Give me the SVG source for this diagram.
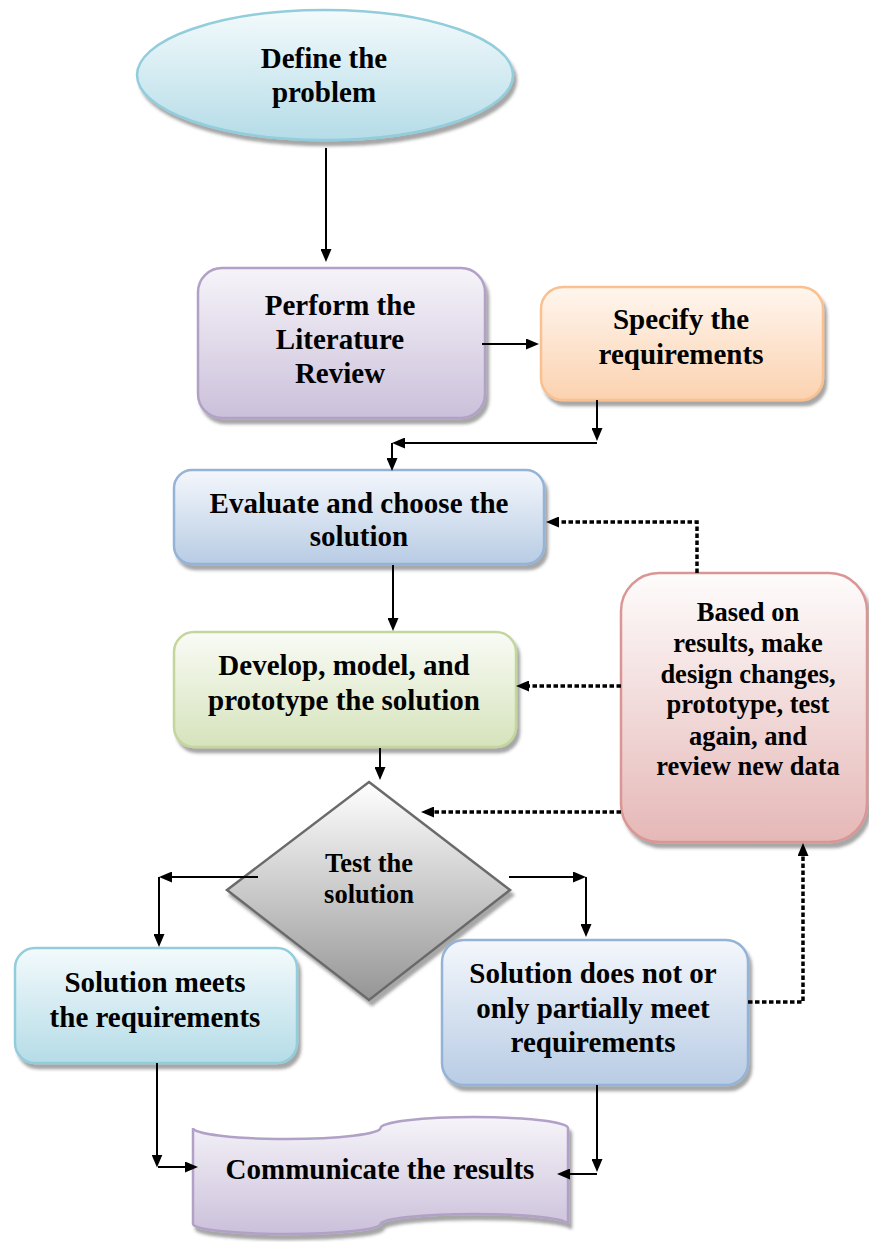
<svg xmlns="http://www.w3.org/2000/svg" width="869" height="1242" viewBox="0 0 869 1242">
<style>
.t{font-family:"Liberation Serif","Times New Roman",serif;font-weight:bold;font-size:29px;fill:#000;text-anchor:middle}
.ts{font-size:26.5px}
.c{fill:none;stroke:#000;stroke-width:2}
.d{fill:none;stroke:#000;stroke-width:3.5;stroke-dasharray:4.5 2.5}
.n{stroke-width:2.5}
</style>
<defs>
<filter id="sh" x="-10%" y="-10%" width="130%" height="130%">
<feGaussianBlur in="SourceAlpha" stdDeviation="1.5"/>
<feOffset dx="3" dy="5" result="o"/>
<feFlood flood-color="#3a3a3a" flood-opacity="0.45"/>
<feComposite in2="o" operator="in"/>
<feMerge><feMergeNode/><feMergeNode in="SourceGraphic"/></feMerge>
</filter>
<marker id="a" viewBox="0 0 13 11" markerUnits="userSpaceOnUse" markerWidth="13" markerHeight="11" refX="0.5" refY="5.5" orient="auto"><path d="M0,0 L13,5.5 L0,11 z" fill="#000"/></marker>
<linearGradient id="gCyan" x1="0" y1="0" x2="0" y2="1"><stop offset="0" stop-color="#f3fafc"/><stop offset="1" stop-color="#b5dce7"/></linearGradient>
<linearGradient id="gPurp" x1="0" y1="0" x2="0" y2="1"><stop offset="0" stop-color="#f6f4f9"/><stop offset="1" stop-color="#cbc0da"/></linearGradient>
<linearGradient id="gOrg" x1="0" y1="0" x2="0" y2="1"><stop offset="0" stop-color="#fff6ee"/><stop offset="1" stop-color="#fbd2b0"/></linearGradient>
<linearGradient id="gBlue" x1="0" y1="0" x2="0" y2="1"><stop offset="0" stop-color="#f4f7fc"/><stop offset="1" stop-color="#b8cce4"/></linearGradient>
<linearGradient id="gGrn" x1="0" y1="0" x2="0" y2="1"><stop offset="0" stop-color="#f9fbf5"/><stop offset="1" stop-color="#d6e3bc"/></linearGradient>
<linearGradient id="gRed" x1="0" y1="0" x2="0" y2="1"><stop offset="0" stop-color="#fefcfc"/><stop offset="1" stop-color="#e5b8b7"/></linearGradient>
<linearGradient id="gGray" x1="0" y1="0" x2="0" y2="1"><stop offset="0" stop-color="#ffffff"/><stop offset="1" stop-color="#959595"/></linearGradient>
</defs>

<g id="define">
<ellipse class="n" cx="325" cy="75" rx="188" ry="65" fill="url(#gCyan)" stroke="#92cddc" filter="url(#sh)"/>
<text class="t" x="324" y="68">Define the</text>
<text class="t" x="324" y="102">problem</text>
</g>

<g id="perform">
<rect class="n" x="198" y="268" width="287" height="150" rx="24" fill="url(#gPurp)" stroke="#b2a1c7" filter="url(#sh)"/>
<text class="t" x="340" y="315">Perform the</text>
<text class="t" x="340" y="349">Literature</text>
<text class="t" x="340" y="383">Review</text>
</g>

<g id="specify">
<rect class="n" x="541" y="287" width="282" height="113" rx="22" fill="url(#gOrg)" stroke="#fac08f" filter="url(#sh)"/>
<text class="t" x="681" y="329">Specify the</text>
<text class="t" x="681" y="364">requirements</text>
</g>

<g id="evaluate">
<rect class="n" x="174" y="470" width="370" height="94" rx="18" fill="url(#gBlue)" stroke="#95b3d7" filter="url(#sh)"/>
<text class="t" x="359" y="513">Evaluate and choose the</text>
<text class="t" x="359" y="546">solution</text>
</g>

<g id="develop">
<rect class="n" x="174" y="632" width="342" height="115" rx="20" fill="url(#gGrn)" stroke="#c3d69b" filter="url(#sh)"/>
<text class="t" x="344" y="675">Develop, model, and</text>
<text class="t" x="344" y="710">prototype the solution</text>
</g>

<g id="based">
<rect class="n" x="621" y="573" width="246" height="269" rx="38" fill="url(#gRed)" stroke="#d99694" filter="url(#sh)"/>
<text class="t ts" x="748" y="621">Based on</text>
<text class="t ts" x="748" y="652">results, make</text>
<text class="t ts" x="748" y="683">design changes,</text>
<text class="t ts" x="748" y="713">prototype, test</text>
<text class="t ts" x="748" y="745">again, and</text>
<text class="t ts" x="748" y="775">review new data</text>
</g>

<g id="test">
<polygon class="n" points="369,782 510,890 369,1000 227,890" fill="url(#gGray)" stroke="#6b6b6b" filter="url(#sh)"/>
<text class="t ts" x="369" y="872">Test the</text>
<text class="t ts" x="369" y="903">solution</text>
</g>

<g id="meets">
<rect class="n" x="15" y="948" width="282" height="115" rx="20" fill="url(#gCyan)" stroke="#92cddc" filter="url(#sh)"/>
<text class="t" x="155" y="992">Solution meets</text>
<text class="t" x="155" y="1027">the requirements</text>
</g>

<g id="notmeet">
<rect class="n" x="442" y="940" width="306" height="145" rx="22" fill="url(#gBlue)" stroke="#95b3d7" filter="url(#sh)"/>
<text class="t" x="593" y="983">Solution does not or</text>
<text class="t" x="593" y="1018">only partially meet</text>
<text class="t" x="593" y="1052">requirements</text>
</g>

<g id="communicate">
<path class="n" d="M193,1128 A93.75,11 0 0,0 380.5,1128 A93.75,11 0 0,1 568,1128 L568,1224 A93.75,10 0 0,0 380.5,1224 A93.75,10 0 0,1 193,1224 Z" fill="url(#gPurp)" stroke="#b2a1c7" filter="url(#sh)"/>
<text class="t" x="380" y="1179">Communicate the results</text>
</g>

<g id="connectors">
<path class="c" d="M326,148 V249.5" marker-end="url(#a)"/>
<path class="c" d="M482,344 H526.5" marker-end="url(#a)"/>
<path class="c" d="M597,400 V428.5" marker-end="url(#a)"/>
<path class="c" d="M597,443 H404.5" marker-end="url(#a)"/>
<path class="c" d="M392,443 V458.5" marker-end="url(#a)"/>
<path class="c" d="M393,565 V618.5" marker-end="url(#a)"/>
<path class="c" d="M380,748 V767.5" marker-end="url(#a)"/>
<path class="c" d="M258,877 H171.5" marker-end="url(#a)"/>
<path class="c" d="M159,877 V934.5" marker-end="url(#a)"/>
<path class="c" d="M509,877 H573.5" marker-end="url(#a)"/>
<path class="c" d="M586,877 V924.5" marker-end="url(#a)"/>
<path class="c" d="M157,1063 V1155" marker-end="url(#a)"/>
<path class="c" d="M158,1167 H185.5" marker-end="url(#a)"/>
<path class="c" d="M597,1085 V1159.5" marker-end="url(#a)"/>
<path class="c" d="M597,1174 H569.5" marker-end="url(#a)"/>
<path class="d" d="M697,573 V522 H558.5" marker-end="url(#a)"/>
<path class="d" d="M621,686 H528.5" marker-end="url(#a)"/>
<path class="d" d="M621,812 H433.5" marker-end="url(#a)"/>
<path class="d" d="M748,1002 H803 V855.5" marker-end="url(#a)"/>
</g>
</svg>
